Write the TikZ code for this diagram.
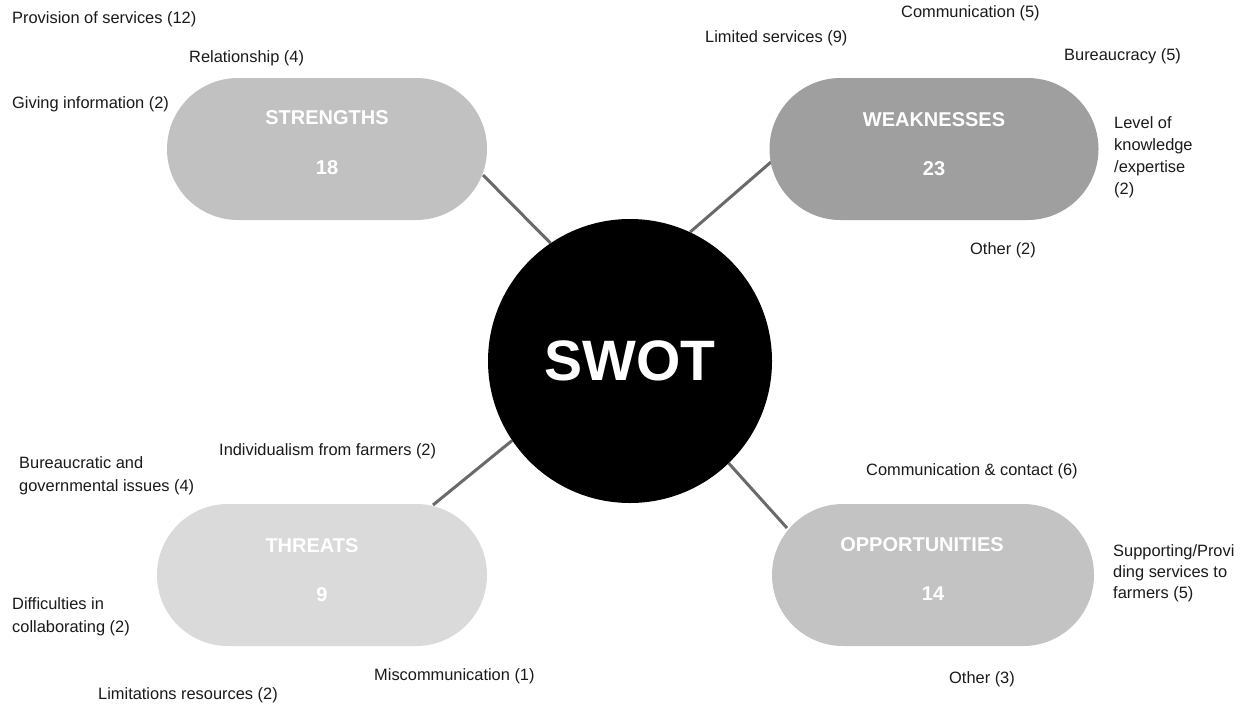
\documentclass[tikz,border=0pt]{standalone}
\usepackage{fontspec}
\setmainfont{Liberation Sans}
\usetikzlibrary{calc,backgrounds}
\definecolor{sfill}{HTML}{C1C1C1}
\definecolor{wfill}{HTML}{9F9F9F}
\definecolor{tfill}{HTML}{DADADA}
\definecolor{ofill}{HTML}{C3C3C3}
\definecolor{conncol}{HTML}{6A6A6A}
\definecolor{labcol}{HTML}{1A1A1A}
\tikzset{
  pill/.style={rounded corners=71pt, minimum width=#1, minimum height=142pt, inner sep=0pt, draw=none},
  pilltitle/.style={text=white, font=\fontsize{20}{22}\selectfont\bfseries, inner sep=0pt},
  pillnum/.style={text=white, font=\fontsize{20}{22}\selectfont\bfseries, inner sep=0pt},
  lab/.style={text=labcol, font=\fontsize{16.4}{22}\selectfont, anchor=west, align=left, inner sep=0pt},
  conn/.style={draw=conncol, line width=3pt},
}
\begin{document}
\begin{tikzpicture}[x=1pt,y=-1pt]
\useasboundingbox (0,0) rectangle (1247,704);

% central circle
\node[circle, fill=black, minimum size=284pt, inner sep=0pt, text=white,
      font=\fontsize{57}{60}\selectfont\bfseries] (C) at (630,361) {SWOT};

% pills
\node[pill=320pt, fill=sfill] (S) at (327,149) {};
\node[pilltitle] (St) at (327,118) {STRENGTHS};
\node[pillnum] (Sn) at (327,168) {18};

\node[pill=329pt, fill=wfill] (W) at (934,149) {};
\node[pilltitle] (Wt) at (934,120) {WEAKNESSES};
\node[pillnum] (Wn) at (934,169) {23};

\node[pill=330pt, fill=tfill] (T) at (322,575) {};
\node[pilltitle] (Tt) at (312,546) {THREATS};
\node[pillnum] (Tn) at (322,595) {9};

\node[pill=322pt, fill=ofill] (O) at (933,575) {};
\node[pilltitle] (Ot) at (922,545) {OPPORTUNITIES};
\node[pillnum] (On) at (933,594) {14};

% connectors
\coordinate (se) at ($(S.center)+(156,26)$);
\coordinate (we) at ($(W.center)+(-163,13)$);
\coordinate (te) at ($(T.center)+(111,-70)$);
\coordinate (oe) at ($(O.center)+(-146,-47)$);
\begin{pgfonlayer}{background}
\fill[white] (0,0) rectangle (1247,704);
\draw[conn] (C.124.6) -- (se);
\draw[conn] (C.65.6) -- (we);
\draw[conn] (C.214) -- (te);
\draw[conn] (C.-46.7) -- (oe);
\end{pgfonlayer}

% strengths labels
\node[lab] (l1) at (12,19) {Provision of services (12)};
\node[lab] (l2) at (189,58) {Relationship (4)};
\node[lab] (l3) at (12,104) {Giving information (2)};

% weaknesses labels
\node[lab] (l4) at (901,13) {Communication (5)};
\node[lab] (l5) at (705,38) {Limited services (9)};
\node[lab] (l6) at (1064,56) {Bureaucracy (5)};
\node[lab] (l7) at (1114,157) {Level of\\knowledge\\/expertise\\(2)};
\node[lab] (l8) at (970,250) {Other (2)};

% threats labels
\node[lab, font=\fontsize{16.4}{23}\selectfont] (l9) at (19,475.5) {Bureaucratic and\\governmental issues (4)};
\node[lab] (l10) at (219,451) {Individualism from farmers (2)};
\node[lab, font=\fontsize{16.4}{23}\selectfont] (l11) at (12,616.5) {Difficulties in\\collaborating (2)};
\node[lab] (l12) at (374,676) {Miscommunication (1)};
\node[lab] (l13) at (98,695) {Limitations resources (2)};

% opportunities labels
\node[lab] (l14) at (866,471) {Communication \& contact (6)};
\node[lab, font=\fontsize{16.4}{21}\selectfont] (l15) at (1113,573) {Supporting/Provi\\ding services to\\farmers (5)};
\node[lab] (l16) at (949,679) {Other (3)};
\end{tikzpicture}
\end{document}
